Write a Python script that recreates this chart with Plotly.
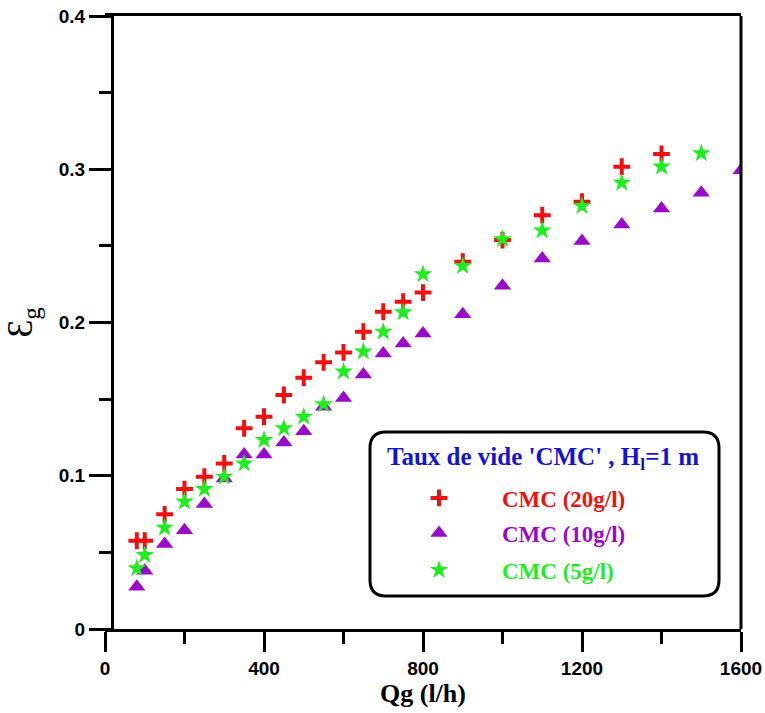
import plotly.graph_objects as go

# Gas flow rate (l/h) and measured void fraction for each CMC concentration
qg_20 = [80, 100, 150, 200, 250, 300, 350, 400, 450, 500, 550, 600, 650, 700,
         750, 800, 900, 1000, 1100, 1200, 1300, 1400]
eg_20 = [0.0576, 0.0576, 0.0748, 0.0913, 0.0994, 0.108, 0.131, 0.1385, 0.1527,
         0.164, 0.174, 0.1805, 0.194, 0.207, 0.2136, 0.2195, 0.2397, 0.2538,
         0.270, 0.2788, 0.3017, 0.310]

qg_10 = [80, 100, 150, 200, 250, 300, 350, 400, 450, 500, 550, 600, 650, 700,
         750, 800, 900, 1000, 1100, 1200, 1300, 1400, 1500, 1600]
eg_10 = [0.0275, 0.038, 0.0555, 0.0645, 0.0815, 0.0982, 0.1138, 0.1138, 0.1217,
         0.1291, 0.145, 0.1508, 0.1661, 0.1798, 0.1863, 0.1928, 0.2054, 0.2239,
         0.2418, 0.2531, 0.2639, 0.2744, 0.2846, 0.2994]

qg_5 = [80, 100, 150, 200, 250, 300, 350, 400, 450, 500, 550, 600, 650, 700,
        750, 800, 900, 1000, 1100, 1200, 1300, 1400, 1500]
eg_5 = [0.0396, 0.0483, 0.0661, 0.0831, 0.0913, 0.0994, 0.108, 0.1233, 0.131,
        0.1385, 0.1466, 0.168, 0.181, 0.194, 0.2066, 0.2314, 0.2369, 0.2543,
        0.260, 0.276, 0.2912, 0.3017, 0.3104]

names = ["CMC (20g/l)", "CMC (10g/l)", "CMC (5g/l)"]
colors = ["#F01010", "#9A0ACC", "#1EEE1E"]

X_TICKS = [0, 400, 800, 1200, 1600]
Y_TICKS = [0, 0.1, 0.2, 0.3, 0.4]
Y_LABELS = ["0", "0.1", "0.2", "0.3", "0.4"]

W, H = 765, 713
ML, MR, MT, MB = 105, 24, 16, 84
pw, ph = W - ML - MR, H - MT - MB

def px_x(p):
    return (p - ML) / pw

def px_y(p):
    return (H - MB - p) / ph

fig = go.Figure()

fig.add_trace(go.Scatter(
    x=qg_20, y=eg_20, mode="markers", name=names[0], legend="legend",
    marker=dict(symbol="cross-thin", size=12, color=colors[0],
                line=dict(width=4, color=colors[0]))))
fig.add_trace(go.Scatter(
    x=qg_10, y=eg_10, mode="markers", name=names[1], legend="legend2",
    marker=dict(symbol="triangle-up", size=15, color=colors[1],
                line=dict(width=0))))
fig.add_trace(go.Scatter(
    x=qg_5, y=eg_5, mode="markers", name=names[2], legend="legend3",
    marker=dict(symbol="star", size=14, color=colors[2],
                line=dict(width=0))))

tick_font = dict(family="Liberation Sans, Arial, sans-serif", size=19,
                 color="black", weight="bold")
serif = "Liberation Serif, Times New Roman, serif"

fig.update_xaxes(
    range=[0, 1600], tickvals=X_TICKS, ticks="outside", ticklen=20, tickwidth=3,
    tickcolor="black", showline=True, linewidth=3, linecolor="black",
    mirror=True, showgrid=False, zeroline=False, tickfont=tick_font,
    automargin=False,
    minor=dict(dtick=200, ticks="outside", ticklen=12, tickwidth=3,
               tickcolor="black", showgrid=False),
    title=dict(text="<b>Qg (l/h)</b>", standoff=2,
               font=dict(family=serif, size=26, color="black")))

fig.update_yaxes(
    range=[0, 0.4], tickvals=Y_TICKS, ticktext=Y_LABELS, ticks="outside",
    ticklen=22, tickwidth=3, tickcolor="black", showline=True, linewidth=3,
    linecolor="black", showgrid=False, zeroline=False, tickfont=tick_font,
    anchor="free", position=px_x(112), automargin=False,
    minor=dict(dtick=0.05, ticks="outside", ticklen=12, tickwidth=3,
               tickcolor="black", showgrid=False),
    title=dict(text="Ɛ<sub>g</sub>", standoff=20,
               font=dict(family=serif, size=36, color="black")))

# right-hand frame line
fig.add_shape(type="line", xref="paper", yref="paper", x0=1, x1=1, y0=0, y1=1,
              line=dict(color="black", width=3))

# rounded legend frame
bx0, bx1 = px_x(370), px_x(719)
by0, by1 = px_y(596), px_y(432)
rx, ry = 16 / pw, 16 / ph
path = (f"M{bx0+rx},{by0} L{bx1-rx},{by0} Q{bx1},{by0} {bx1},{by0+ry} "
        f"L{bx1},{by1-ry} Q{bx1},{by1} {bx1-rx},{by1} L{bx0+rx},{by1} "
        f"Q{bx0},{by1} {bx0},{by1-ry} L{bx0},{by0+ry} Q{bx0},{by0} {bx0+rx},{by0} Z")
fig.add_shape(type="path", path=path, xref="paper", yref="paper",
              line=dict(color="black", width=3), fillcolor="white", layer="below")

fig.add_annotation(
    text="<b>Taux de vide 'CMC' , H<sub>l</sub>=1 m</b>", xref="paper",
    yref="paper", x=px_x(543), y=px_y(458), showarrow=False, xanchor="center",
    yanchor="middle", font=dict(family=serif, size=25, color="#1414D2"))

row_y = [498, 533, 570]
leg_common = dict(xanchor="left", yanchor="middle", bgcolor="rgba(0,0,0,0)",
                  borderwidth=0, itemwidth=116)
layout_legends = {}
for i, key in enumerate(["legend", "legend2", "legend3"]):
    layout_legends[key] = dict(
        x=px_x(376), y=px_y(row_y[i]),
        font=dict(family=serif, size=23, color=colors[i], weight="bold"),
        **leg_common)

fig.update_layout(
    width=W, height=H, margin=dict(l=ML, r=MR, t=MT, b=MB, autoexpand=False),
    plot_bgcolor="white", paper_bgcolor="white", showlegend=True,
    **layout_legends)

fig.write_html("out.html")
